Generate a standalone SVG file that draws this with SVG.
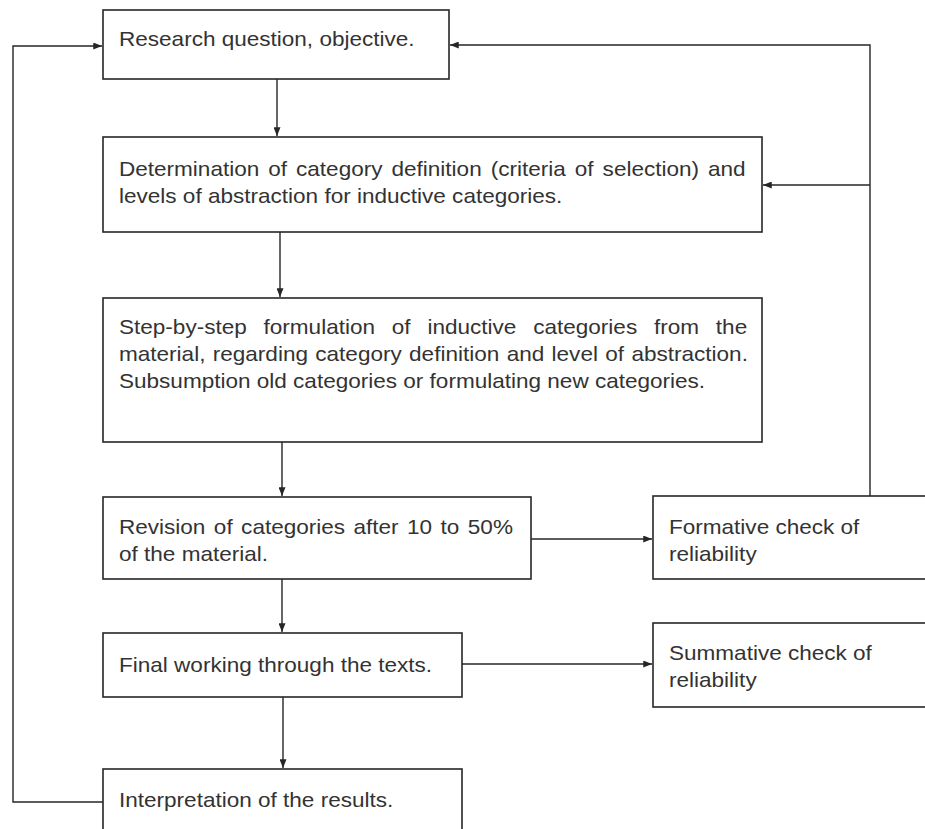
<svg xmlns="http://www.w3.org/2000/svg" width="925" height="829" viewBox="0 0 925 829">
  <style>
    .box { fill: #ffffff; stroke: #262626; stroke-width: 1.6; }
    .edge { fill: none; stroke: #262626; stroke-width: 1.4; }
    .lbl { font-family: "Liberation Sans", Arial, sans-serif; font-size: 20.5px; fill: #333333; }
  </style>
  <defs>
    <marker id="arrow" viewBox="0 0 10 8" refX="10" refY="4" markerWidth="9" markerHeight="7" markerUnits="userSpaceOnUse" orient="auto">
      <path d="M0,0 L10,4 L0,8 Z" fill="#262626"/>
    </marker>
  </defs>
  <rect width="925" height="829" fill="#ffffff"/>

  <!-- connectors -->
  <g id="connectors">
    <path class="edge" d="M277,79 V136" marker-end="url(#arrow)"/>
    <path class="edge" d="M280,232 V297" marker-end="url(#arrow)"/>
    <path class="edge" d="M282,442 V496" marker-end="url(#arrow)"/>
    <path class="edge" d="M282,579 V632" marker-end="url(#arrow)"/>
    <path class="edge" d="M283,697 V768" marker-end="url(#arrow)"/>
    <path class="edge" d="M531,539 H652" marker-end="url(#arrow)"/>
    <path class="edge" d="M462,664 H652" marker-end="url(#arrow)"/>
    <path class="edge" d="M870,496 V45 H450" marker-end="url(#arrow)"/>
    <path class="edge" d="M870,185 H763" marker-end="url(#arrow)"/>
    <path class="edge" d="M103,802 H13 V46 H102" marker-end="url(#arrow)"/>
  </g>

  <g id="research-question">
    <rect class="box" x="103" y="10" width="346" height="69"/>
    <text class="lbl" transform="translate(119,0) scale(1.1,1)" x="0" y="46">Research question, objective.</text>
  </g>

  <g id="category-definition">
    <rect class="box" x="103" y="137" width="659" height="95"/>
    <text class="lbl" transform="translate(119,0) scale(1.1,1)">
      <tspan x="0" y="176" word-spacing="2.5">Determination of category definition (criteria of selection) and</tspan>
      <tspan x="0" y="203">levels of abstraction for inductive categories.</tspan>
    </text>
  </g>

  <g id="formulation">
    <rect class="box" x="103" y="298" width="659" height="144"/>
    <text class="lbl" transform="translate(119,0) scale(1.1,1)">
      <tspan x="0" y="334" word-spacing="9.6">Step-by-step formulation of inductive categories from the</tspan>
      <tspan x="0" y="361" word-spacing="1">material, regarding category definition and level of abstraction.</tspan>
      <tspan x="0" y="388">Subsumption old categories or formulating new categories.</tspan>
    </text>
  </g>

  <g id="revision">
    <rect class="box" x="103" y="497" width="428" height="82"/>
    <text class="lbl" transform="translate(119,0) scale(1.1,1)">
      <tspan x="0" y="534" word-spacing="2">Revision of categories after 10 to 50%</tspan>
      <tspan x="0" y="561">of the material.</tspan>
    </text>
  </g>

  <g id="formative-check">
    <rect class="box" x="653" y="496" width="290" height="83"/>
    <text class="lbl" transform="translate(669,0) scale(1.1,1)">
      <tspan x="0" y="534">Formative check of</tspan>
      <tspan x="0" y="561">reliability</tspan>
    </text>
  </g>

  <g id="final-working">
    <rect class="box" x="103" y="633" width="359" height="64"/>
    <text class="lbl" transform="translate(119,0) scale(1.1,1)" x="0" y="672">Final working through the texts.</text>
  </g>

  <g id="summative-check">
    <rect class="box" x="653" y="623" width="290" height="84"/>
    <text class="lbl" transform="translate(669,0) scale(1.1,1)">
      <tspan x="0" y="660">Summative check of</tspan>
      <tspan x="0" y="687">reliability</tspan>
    </text>
  </g>

  <g id="interpretation">
    <rect class="box" x="103" y="769" width="359" height="80"/>
    <text class="lbl" transform="translate(119,0) scale(1.1,1)" x="0" y="807">Interpretation of the results.</text>
  </g>
</svg>
